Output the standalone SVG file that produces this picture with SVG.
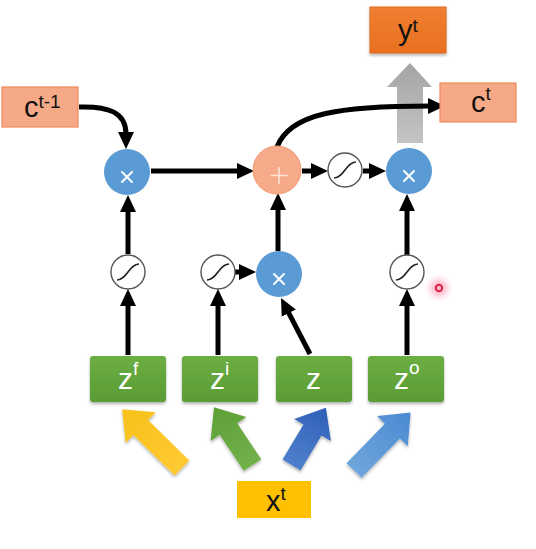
<svg xmlns="http://www.w3.org/2000/svg" width="536" height="549" viewBox="0 0 536 549">
<style>
text{font-family:"Liberation Sans",Arial,sans-serif;}
.lbl{font-size:29px;fill:#111;}
.wl{font-size:30px;fill:#fff;}
.sup{font-size:19px;}
.cbox{fill:#f6a987;stroke:#ee8a5a;stroke-width:1.2;}
.gbox{fill:url(#gg);}
.mul{fill:#5b9bd5;}
.sig{fill:#fff;stroke:#555;stroke-width:1.4;}
.sc{fill:none;stroke:#222;stroke-width:1.6;}
.sym{stroke:#fff;stroke-width:2;fill:none;stroke-linecap:round;}
.con{fill:none;stroke:#000;stroke-width:5;marker-end:url(#ah);}
</style>
<defs>
<marker id="ah" viewBox="0 0 17 17" markerWidth="17" markerHeight="17" markerUnits="userSpaceOnUse" refX="2" refY="8.5" orient="auto">
<path d="M0,0.5 L17,8.5 L0,16.5 Z" fill="#000"/>
</marker>
<linearGradient id="gg" x1="0" y1="0" x2="0" y2="1">
<stop offset="0" stop-color="#6cae42"/>
<stop offset="1" stop-color="#5a9c34"/>
</linearGradient>
<linearGradient id="og" x1="0" y1="0" x2="0" y2="1">
<stop offset="0" stop-color="#f07f32"/>
<stop offset="1" stop-color="#e8701f"/>
</linearGradient>
<linearGradient id="gr" x1="0" y1="0" x2="0" y2="1">
<stop offset="0" stop-color="#a4a4a4"/>
<stop offset="1" stop-color="#c4c4c4"/>
</linearGradient>
<linearGradient id="yg" x1="1" y1="0" x2="0" y2="0">
<stop offset="0" stop-color="#f7c21a"/>
<stop offset="1" stop-color="#ffc933"/>
</linearGradient>
<linearGradient id="grg" x1="1" y1="0" x2="0" y2="0">
<stop offset="0" stop-color="#5e9f38"/>
<stop offset="1" stop-color="#72b24a"/>
</linearGradient>
<linearGradient id="bg" x1="1" y1="0" x2="0" y2="0">
<stop offset="0" stop-color="#2f5fb8"/>
<stop offset="1" stop-color="#4f7fcb"/>
</linearGradient>
<linearGradient id="lbg" x1="1" y1="0" x2="0" y2="0">
<stop offset="0" stop-color="#4a8ad2"/>
<stop offset="1" stop-color="#6fa5dc"/>
</linearGradient>
<filter id="sh" x="-20%" y="-20%" width="140%" height="150%">
<feDropShadow dx="0" dy="2" stdDeviation="1.5" flood-color="#000" flood-opacity="0.3"/>
</filter>
<filter id="glow" x="-100%" y="-100%" width="300%" height="300%">
<feGaussianBlur stdDeviation="3"/>
</filter>
<path id="sg" d="M-11,8 C-1,8 1,-8 11,-8"/>
</defs>
<rect width="536" height="549" fill="#fff"/>

<g id="connectors">
<polygon points="397,143 423,143 423,87 432,87 410,63 387,87 397,87" fill="url(#gr)"/>
<path class="con" d="M79,107 C108,106 126,112 126,134"/>
<path class="con" d="M151,171 L239,171"/>
<path class="con" d="M302,171 L313,171"/>
<path class="con" d="M363,171 L371,171"/>
<path class="con" d="M277,147 C290,113 340,106 430,106"/>
<path class="con" d="M128,254 L128,210"/>
<path class="con" d="M278,251 L278,208"/>
<path class="con" d="M407,255 L407,209"/>
<path class="con" d="M235,272 L241,272"/>
<path class="con" d="M310,354 L287.9,311.3"/>
<path class="con" d="M128,355 L128,304"/>
<path class="con" d="M218,355 L218,304"/>
<path class="con" d="M407,355 L407,304"/>
<g filter="url(#sh)">
<polygon transform="translate(182,468) rotate(-135.6)" points="0,-10.5 57.8,-10.5 57.8,-21.5 83.8,0 57.8,21.5 57.8,10.5 0,10.5" fill="url(#yg)"/>
<polygon transform="translate(252.5,465) rotate(-123.7)" points="0,-10.5 43.3,-10.5 43.3,-21.5 69.3,0 43.3,21.5 43.3,10.5 0,10.5" fill="url(#grg)"/>
<polygon transform="translate(291.5,465) rotate(-59)" points="0,-10.5 40.8,-10.5 40.8,-21.5 66.8,0 40.8,21.5 40.8,10.5 0,10.5" fill="url(#bg)"/>
<polygon transform="translate(354,470.5) rotate(-45.7)" points="0,-10.5 55,-10.5 55,-21.5 81,0 55,21.5 55,10.5 0,10.5" fill="url(#lbg)"/>
</g>
</g>

<g id="c_prev">
<rect class="cbox" x="2" y="87" width="76" height="40"/>
<text class="lbl" x="24" y="117">c<tspan class="sup" dy="-9">t-1</tspan></text>
</g>
<g id="c_t">
<rect class="cbox" x="440" y="83" width="76" height="39"/>
<text class="lbl" x="471" y="112">c<tspan class="sup" dy="-12">t</tspan></text>
</g>
<g id="y_t">
<rect x="370" y="7" width="76" height="46" fill="url(#og)" stroke="#e06c1c" stroke-width="1" filter="url(#sh)"/>
<text class="lbl" x="398" y="40">y<tspan class="sup" dy="-8">t</tspan></text>
</g>

<g id="mul_f">
<circle class="mul" cx="127" cy="172" r="23"/>
<path class="sym" d="M122,172 L132,182 M132,172 L122,182"/>
</g>
<g id="add">
<circle cx="277" cy="170" r="24" fill="#f6aa8a" stroke="#f09a74" stroke-width="1"/>
<path d="M279,167 L279,184 M270.5,175.5 L287.5,175.5" stroke="#fde3d6" stroke-width="1.6" fill="none"/>
</g>
<g id="mul_o">
<circle class="mul" cx="409" cy="171" r="23"/>
<path class="sym" d="M404,171 L414,181 M414,171 L404,181"/>
</g>
<g id="mul_i">
<circle class="mul" cx="279" cy="274" r="23"/>
<path class="sym" d="M274,274 L284,284 M284,274 L274,284"/>
</g>

<g id="sig_c">
<circle class="sig" cx="345" cy="170" r="17"/>
<use href="#sg" class="sc" x="345" y="170"/>
</g>
<g id="sig_f">
<circle class="sig" cx="128" cy="272" r="17"/>
<use href="#sg" class="sc" x="128" y="272"/>
</g>
<g id="sig_i">
<circle class="sig" cx="218" cy="272" r="17"/>
<use href="#sg" class="sc" x="218" y="272"/>
</g>
<g id="sig_o">
<circle class="sig" cx="407" cy="272" r="17"/>
<use href="#sg" class="sc" x="407" y="272"/>
</g>

<g id="zf">
<rect class="gbox" x="90" y="356" width="76" height="46" rx="3" filter="url(#sh)"/>
<text class="wl" x="118" y="389">z<tspan class="sup" dy="-14">f</tspan></text>
</g>
<g id="zi">
<rect class="gbox" x="182" y="356" width="76" height="46" rx="3" filter="url(#sh)"/>
<text class="wl" x="210" y="389">z<tspan class="sup" dy="-14">i</tspan></text>
</g>
<g id="z">
<rect class="gbox" x="276" y="356" width="76" height="46" rx="3" filter="url(#sh)"/>
<text class="wl" x="306" y="389">z</text>
</g>
<g id="zo">
<rect class="gbox" x="368" y="356" width="76" height="46" rx="3" filter="url(#sh)"/>
<text class="wl" x="394" y="389">z<tspan class="sup" dy="-15">o</tspan></text>
</g>

<g id="x_t">
<rect x="237" y="481" width="74" height="37" fill="#ffc000"/>
<text class="lbl" x="266" y="511">x<tspan class="sup" dy="-11">t</tspan></text>
</g>

<g id="pointer">
<circle cx="439" cy="288" r="9" fill="#ff6b8f" opacity="0.45" filter="url(#glow)"/>
<circle cx="439" cy="288" r="3.2" fill="none" stroke="#e0204a" stroke-width="2"/>
</g>
</svg>
